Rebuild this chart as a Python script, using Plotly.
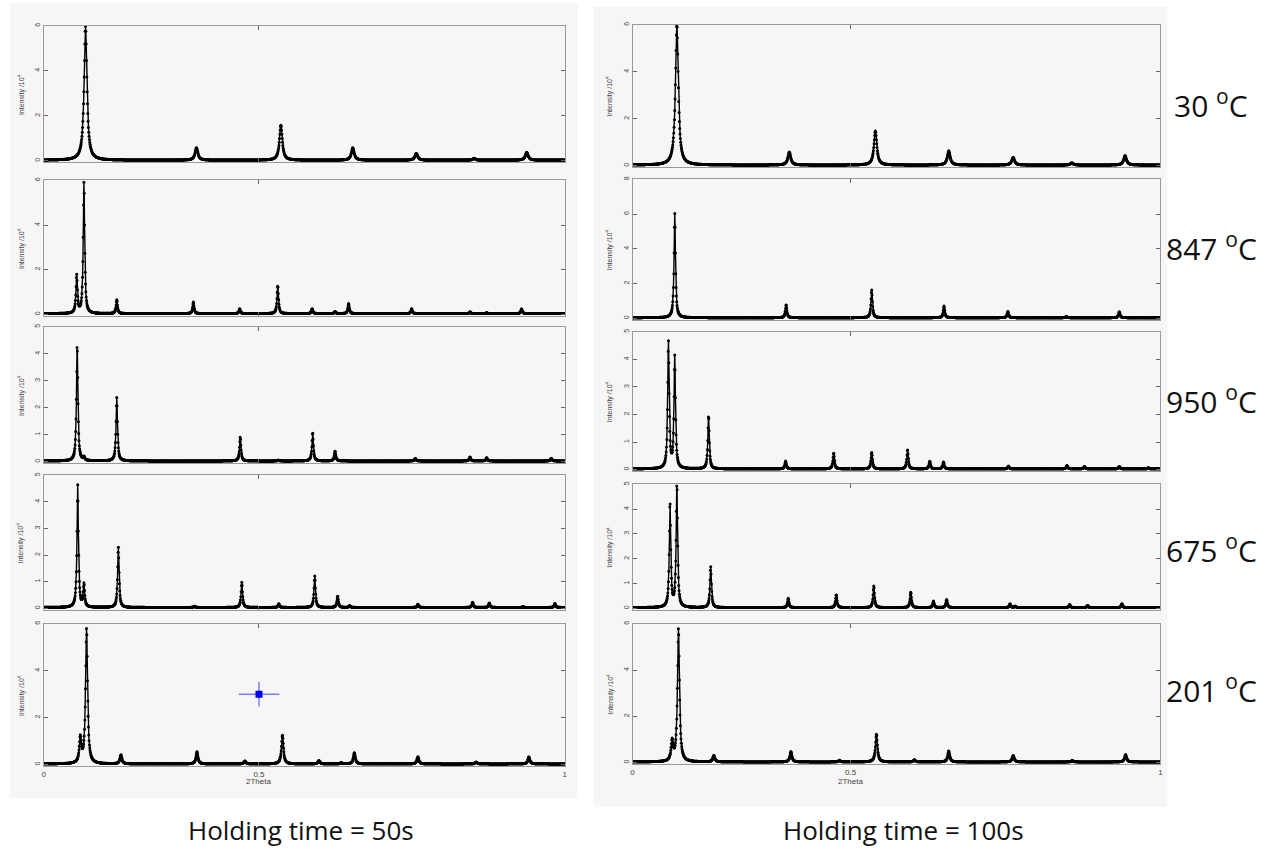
import numpy as np
import plotly.graph_objects as go

W, H = 1279, 850

# ---------------- data ----------------
# x is the fraction of the 2Theta axis; the "0.5" tick sits at 0.413 of the axis
x_tick_vals = [0, 0.413, 1]
x_tick_text = ["0", "0.5", "1"]

temps = ["30", "847", "950", "675", "201"]
holding = ["Holding time = 50s", "Holding time = 100s"]

# Holding time = 50 s
pos_50_30 = [0.080, 0.293, 0.455, 0.593, 0.715, 0.826, 0.927]
hgt_50_30 = [5.95, 0.55, 1.55, 0.55, 0.30, 0.08, 0.35]
pos_50_847 = [0.063, 0.077, 0.140, 0.287, 0.376, 0.449, 0.515, 0.559, 0.585, 0.706, 0.818, 0.850, 0.917]
hgt_50_847 = [1.70, 5.90, 0.62, 0.52, 0.22, 1.25, 0.22, 0.10, 0.45, 0.22, 0.08, 0.04, 0.22]
pos_50_950 = [0.064, 0.077, 0.140, 0.377, 0.450, 0.516, 0.559, 0.713, 0.818, 0.850, 0.974]
hgt_50_950 = [4.30, 0.12, 2.35, 0.88, 0.03, 1.05, 0.37, 0.10, 0.15, 0.12, 0.10]
pos_50_675 = [0.065, 0.077, 0.143, 0.289, 0.380, 0.451, 0.520, 0.564, 0.587, 0.718, 0.823, 0.855, 0.920, 0.981]
hgt_50_675 = [4.60, 0.85, 2.28, 0.05, 0.95, 0.14, 1.18, 0.43, 0.07, 0.12, 0.20, 0.17, 0.03, 0.15]
pos_50_201 = [0.070, 0.082, 0.148, 0.294, 0.386, 0.458, 0.528, 0.571, 0.596, 0.718, 0.830, 0.931]
hgt_50_201 = [1.05, 5.75, 0.38, 0.52, 0.12, 1.22, 0.14, 0.05, 0.48, 0.30, 0.08, 0.30]

# Holding time = 100 s
pos_100_30 = [0.084, 0.297, 0.460, 0.599, 0.721, 0.832, 0.933]
hgt_100_30 = [5.95, 0.55, 1.45, 0.60, 0.32, 0.09, 0.40]
pos_100_847 = [0.080, 0.291, 0.453, 0.590, 0.711, 0.822, 0.922]
hgt_100_847 = [6.00, 0.75, 1.60, 0.68, 0.36, 0.07, 0.34]
pos_100_950 = [0.068, 0.080, 0.144, 0.290, 0.381, 0.453, 0.521, 0.563, 0.589, 0.712, 0.823, 0.856, 0.922, 0.977]
hgt_100_950 = [4.60, 4.05, 1.92, 0.28, 0.58, 0.60, 0.70, 0.28, 0.25, 0.10, 0.12, 0.09, 0.09, 0.04]
pos_100_675 = [0.071, 0.084, 0.148, 0.295, 0.386, 0.457, 0.527, 0.570, 0.595, 0.715, 0.725, 0.828, 0.862, 0.927]
hgt_100_675 = [4.20, 4.95, 1.65, 0.38, 0.52, 0.88, 0.62, 0.26, 0.33, 0.15, 0.06, 0.13, 0.09, 0.16]
pos_100_201 = [0.075, 0.087, 0.154, 0.300, 0.392, 0.462, 0.534, 0.599, 0.721, 0.833, 0.934]
hgt_100_201 = [0.85, 5.75, 0.28, 0.45, 0.07, 1.20, 0.09, 0.48, 0.28, 0.06, 0.32]

# peak half-width (fraction of axis) per row
row_hwhm = [0.0032, 0.0016, 0.0016, 0.0016, 0.0022]
baseline = 0.03

left_pos = [pos_50_30, pos_50_847, pos_50_950, pos_50_675, pos_50_201]
left_hgt = [hgt_50_30, hgt_50_847, hgt_50_950, hgt_50_675, hgt_50_201]
right_pos = [pos_100_30, pos_100_847, pos_100_950, pos_100_675, pos_100_201]
right_hgt = [hgt_100_30, hgt_100_847, hgt_100_950, hgt_100_675, hgt_100_201]

left_ymax = [6, 6, 5, 5, 6]
right_ymax = [6, 8, 5, 5, 6]

# blue cross marker in the 50 s / 201 C panel
cross_x = [0.413]
cross_y = [3.0]
cross_dx = [0.039]
cross_dy = [0.52]

# ---------------- layout geometry (pixels) ----------------
left_x = (42, 565)
right_x = (633, 1163)
left_rows = [(23, 160), (178, 314), (325, 462), (474, 609), (623, 766)]
right_rows = [(22, 165), (177, 318), (330, 470), (483, 609), (623, 764)]
temp_y = [101, 245, 398, 548, 688]

xs = np.linspace(0, 1, 1601)


def profile(pos, hgt, w):
    y = np.full_like(xs, baseline)
    for c, h in zip(pos, hgt):
        y += h / (1 + ((xs - c) / w) ** 2)
    return y


def px(x):
    return x / W


def py(y):
    return 1 - y / H


fig = go.Figure()
layout = dict(
    width=W, height=H, margin=dict(l=0, r=0, t=0, b=0),
    paper_bgcolor="white", plot_bgcolor="#f8f8f8", showlegend=False,
    font=dict(family="Liberation Sans, Arial, sans-serif", color="#333"),
)
annotations = []
shapes = [
    dict(type="rect", xref="paper", yref="paper", x0=px(8), x1=px(578), y0=py(798), y1=py(0),
         fillcolor="#f6f6f6", line=dict(width=0), layer="below"),
    dict(type="rect", xref="paper", yref="paper", x0=px(594), x1=px(1170), y0=py(807), y1=py(4),
         fillcolor="#f6f6f6", line=dict(width=0), layer="below"),
]

n = 0
for col in range(2):
    xr = left_x if col == 0 else right_x
    rows = left_rows if col == 0 else right_rows
    P = left_pos if col == 0 else right_pos
    Hh = left_hgt if col == 0 else right_hgt
    ymaxs = left_ymax if col == 0 else right_ymax
    for r in range(5):
        n += 1
        xa = "x" if n == 1 else f"x{n}"
        ya = "y" if n == 1 else f"y{n}"
        y = profile(P[r], Hh[r], row_hwhm[r])
        fig.add_trace(go.Scatter(
            x=xs, y=y, xaxis=xa, yaxis=ya, mode="lines+markers",
            line=dict(color="black", width=1.4),
            marker=dict(color="black", size=3),
            hoverinfo="skip",
        ))
        ymax = ymaxs[r]
        t0, t1 = rows[r]
        last = r == 4
        layout["xaxis" if n == 1 else f"xaxis{n}"] = dict(
            domain=[px(xr[0]), px(xr[1])], anchor=ya, range=[0, 1],
            showgrid=False, zeroline=False, showline=True, linecolor="#9a9a9a",
            linewidth=1, mirror="ticks", ticks="inside", ticklen=4, tickcolor="#666",
            tickvals=x_tick_vals, ticktext=x_tick_text, showticklabels=last,
            tickfont=dict(size=8, color="#444"),
        )
        layout["yaxis" if n == 1 else f"yaxis{n}"] = dict(
            domain=[py(t1), py(t0)], anchor=xa, range=[-0.012 * ymax, ymax],
            showgrid=False, zeroline=False, showline=True, linecolor="#9a9a9a",
            linewidth=1, mirror="ticks", ticks="inside", ticklen=4, tickcolor="#666",
            tickmode="linear", tick0=0, dtick=1 if ymax == 5 else 2,
            tickangle=-90, tickfont=dict(size=7, color="#444"),
        )
        annotations.append(dict(
            xref="paper", yref="paper", x=px(xr[0] - 23), y=py((t0 + t1) / 2),
            text="Intensity /10<sup>4</sup>", showarrow=False, textangle=-90,
            font=dict(size=7, color="#444"), xanchor="center", yanchor="middle",
        ))
        if last:
            annotations.append(dict(
                xref="paper", yref="paper",
                x=px(xr[0] + x_tick_vals[1] * (xr[1] - xr[0])), y=py(781),
                text="2Theta", showarrow=False, font=dict(size=8, color="#444"),
                xanchor="center", yanchor="middle",
            ))
            if col == 0:
                fig.add_trace(go.Scatter(
                    x=cross_x, y=cross_y, xaxis=xa, yaxis=ya, mode="markers",
                    marker=dict(symbol="square", color="#0000ee", size=7),
                    error_x=dict(type="data", array=cross_dx, color="#4040ff", thickness=1, width=0),
                    error_y=dict(type="data", array=cross_dy, color="#4040ff", thickness=1, width=0),
                    hoverinfo="skip",
                ))

for t, yy in zip(temps, temp_y):
    annotations.append(dict(
        xref="paper", yref="paper", x=px(1214), y=py(yy),
        text=f"{t} <sup>o</sup>C", showarrow=False,
        font=dict(family="Open Sans, sans-serif", size=30, color="#111"),
        xanchor="center", yanchor="middle",
    ))

for txt, xx in zip(holding, [300, 905]):
    annotations.append(dict(
        xref="paper", yref="paper", x=px(xx), y=py(830),
        text=txt, showarrow=False,
        font=dict(family="Open Sans, sans-serif", size=26, color="#111"),
        xanchor="center", yanchor="middle",
    ))

layout["annotations"] = annotations
layout["shapes"] = shapes
fig.update_layout(**layout)
fig.write_html(
    "out.html",
    config={"displayModeBar": False},
    post_script="document.body.style.margin='0';document.body.style.padding='0';"
                "document.documentElement.style.overflow='hidden';",
)
